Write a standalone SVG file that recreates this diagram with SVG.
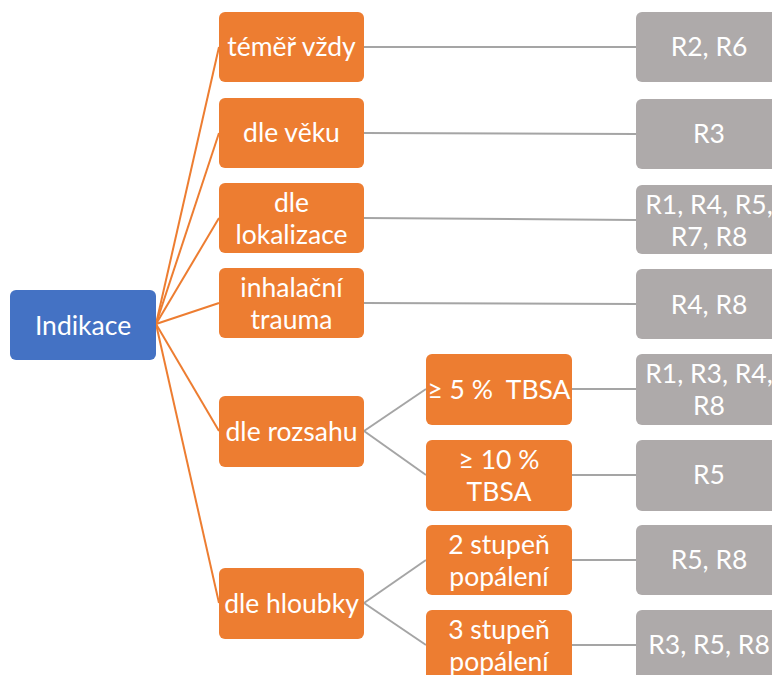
<svg xmlns="http://www.w3.org/2000/svg" width="772" height="675" viewBox="0 0 772 675">
  <style>
    .root { fill: #4472C4; }
    .cat { fill: #ED7D31; }
    .res { fill: #AEAAAA; }
    text { font-family: Lato, "Liberation Sans", sans-serif; font-size: 26.5px; fill: #FFFFFF; text-anchor: middle; dominant-baseline: central; white-space: pre; }
    .o { stroke: #ED7D31; stroke-width: 2; fill: none; }
    .g { stroke: #A5A5A5; stroke-width: 2; fill: none; }
  </style>
  <rect width="772" height="675" fill="#FFFFFF"/>

  <g id="connectors">
    <!-- root to categories -->
    <line class="o" x1="156" y1="324" x2="219" y2="47"/>
    <line class="o" x1="156" y1="324" x2="219" y2="133"/>
    <line class="o" x1="156" y1="324" x2="219" y2="218"/>
    <line class="o" x1="156" y1="324" x2="219" y2="303"/>
    <line class="o" x1="156" y1="324" x2="219" y2="431"/>
    <line class="o" x1="156" y1="324" x2="219" y2="603"/>
    <!-- categories to references -->
    <line class="g" x1="364" y1="47" x2="636" y2="47"/>
    <line class="g" x1="364" y1="133" x2="636" y2="134"/>
    <line class="g" x1="364" y1="218" x2="636" y2="220"/>
    <line class="g" x1="364" y1="303" x2="636" y2="304"/>
    <!-- extent split -->
    <line class="g" x1="364" y1="431" x2="426" y2="389"/>
    <line class="g" x1="364" y1="431" x2="426" y2="475"/>
    <line class="g" x1="572" y1="389" x2="636" y2="389"/>
    <line class="g" x1="572" y1="475" x2="636" y2="475"/>
    <!-- depth split -->
    <line class="g" x1="364" y1="603" x2="426" y2="560"/>
    <line class="g" x1="364" y1="603" x2="426" y2="645"/>
    <line class="g" x1="572" y1="560" x2="636" y2="560"/>
    <line class="g" x1="572" y1="645" x2="636" y2="645"/>
  </g>

  <g id="indikace">
    <rect class="root" x="10" y="290" width="146" height="70" rx="6"/>
    <text x="83" y="325">Indikace</text>
  </g>

  <g id="temer-vzdy">
    <rect class="cat" x="219" y="12" width="145" height="70" rx="6"/>
    <text x="291.5" y="46">téměř vždy</text>
  </g>
  <g id="dle-veku">
    <rect class="cat" x="219" y="98" width="145" height="70" rx="6"/>
    <text x="291.5" y="132">dle věku</text>
  </g>
  <g id="dle-lokalizace">
    <rect class="cat" x="219" y="183" width="145" height="70" rx="6"/>
    <text x="291.5" y="202">dle</text>
    <text x="291.5" y="234">lokalizace</text>
  </g>
  <g id="inhalacni-trauma">
    <rect class="cat" x="219" y="268" width="145" height="70" rx="6"/>
    <text x="291.5" y="287">inhalační</text>
    <text x="291.5" y="319">trauma</text>
  </g>
  <g id="dle-rozsahu">
    <rect class="cat" x="219" y="396" width="145" height="71" rx="6"/>
    <text x="291.5" y="431">dle rozsahu</text>
  </g>
  <g id="dle-hloubky">
    <rect class="cat" x="219" y="568" width="145" height="71" rx="6"/>
    <text x="291.5" y="603">dle hloubky</text>
  </g>

  <g id="tbsa-5">
    <rect class="cat" x="426" y="354" width="146" height="71" rx="6"/>
    <text x="499" y="389">≥ 5 %  TBSA</text>
  </g>
  <g id="tbsa-10">
    <rect class="cat" x="426" y="440" width="146" height="71" rx="6"/>
    <text x="499" y="459">≥ 10 %</text>
    <text x="499" y="491">TBSA</text>
  </g>
  <g id="stupen-2">
    <rect class="cat" x="426" y="525" width="146" height="70" rx="6"/>
    <text x="499" y="544">2 stupeň</text>
    <text x="499" y="576">popálení</text>
  </g>
  <g id="stupen-3">
    <rect class="cat" x="426" y="610" width="146" height="71" rx="6"/>
    <text x="499" y="629">3 stupeň</text>
    <text x="499" y="661">popálení</text>
  </g>

  <g id="ref-r2-r6">
    <rect class="res" x="636" y="12" width="146" height="70" rx="6"/>
    <text x="709" y="46">R2, R6</text>
  </g>
  <g id="ref-r3">
    <rect class="res" x="636" y="99" width="146" height="70" rx="6"/>
    <text x="709" y="133">R3</text>
  </g>
  <g id="ref-r1-r4-r5-r7-r8">
    <rect class="res" x="636" y="185" width="146" height="69" rx="6"/>
    <text x="709" y="204">R1, R4, R5,</text>
    <text x="709" y="236">R7, R8</text>
  </g>
  <g id="ref-r4-r8">
    <rect class="res" x="636" y="269" width="146" height="70" rx="6"/>
    <text x="709" y="304">R4, R8</text>
  </g>
  <g id="ref-r1-r3-r4-r8">
    <rect class="res" x="636" y="354" width="146" height="71" rx="6"/>
    <text x="709" y="373">R1, R3, R4,</text>
    <text x="709" y="405">R8</text>
  </g>
  <g id="ref-r5">
    <rect class="res" x="636" y="440" width="146" height="71" rx="6"/>
    <text x="709" y="474">R5</text>
  </g>
  <g id="ref-r5-r8">
    <rect class="res" x="636" y="525" width="146" height="70" rx="6"/>
    <text x="709" y="559">R5, R8</text>
  </g>
  <g id="ref-r3-r5-r8">
    <rect class="res" x="636" y="610" width="146" height="71" rx="6"/>
    <text x="709" y="644">R3, R5, R8</text>
  </g>
</svg>
